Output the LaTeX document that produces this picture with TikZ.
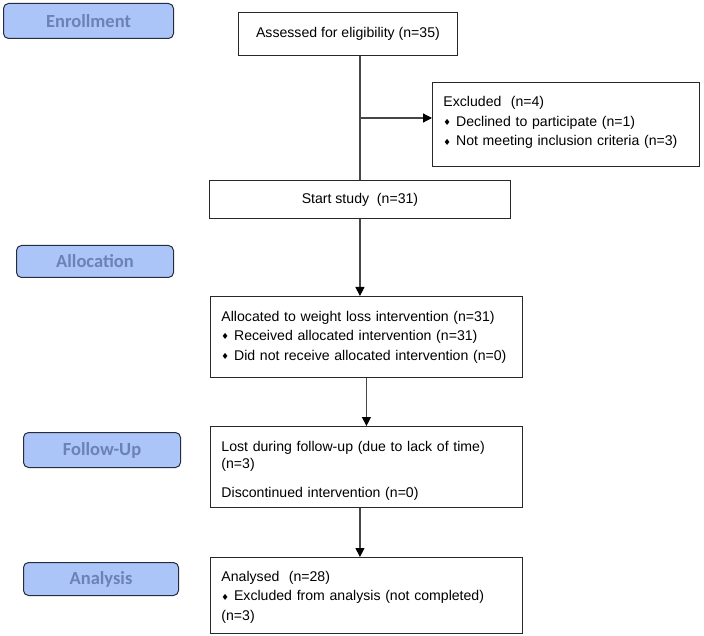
\documentclass[tikz,border=0pt]{standalone}
\usepackage{fontspec}
\setmainfont{Liberation Sans}
\newfontfamily\stagefont{Carlito}
\newfontfamily\symbfont{DejaVu Sans}
\usetikzlibrary{arrows.meta}
\definecolor{stagefill}{RGB}{172,197,248}
\definecolor{stagetext}{RGB}{106,130,184}
\definecolor{stageline}{RGB}{38,44,60}
\definecolor{boxline}{RGB}{40,40,40}
\definecolor{connline}{RGB}{70,70,70}
\newcommand{\dmd}{{\symbfont\fontsize{8.5}{8.5}\selectfont\raisebox{0.8pt}{♦}}\hspace{5pt}}
\begin{document}
\begin{tikzpicture}[x=1pt,y=-1pt,
  stage/.style={draw=stageline, line width=1pt, fill=stagefill, rounded corners=5pt, anchor=north west,
    font=\stagefont\bfseries\fontsize{18.5}{20}\selectfont, text=stagetext, inner sep=0pt},
  box/.style={draw=boxline, line width=0.9pt, anchor=north west, inner sep=0pt, font=\fontsize{14.1}{19.5}\selectfont},
  lbox/.style={box, align=left, text width=#1, inner xsep=11pt},
  conn/.style={draw=connline, line width=1.2pt},
  arr/.style={conn, -{Triangle[length=9pt,width=9pt,color=black]}}]
\useasboundingbox (0,0) rectangle (704,636);
% stage labels
\node[stage, minimum width=170pt, minimum height=35pt] (enr) at (3,3) {Enrollment};
\node[stage, minimum width=157pt, minimum height=32pt] (alc) at (16,245) {Allocation};
\node[stage, minimum width=157pt, minimum height=35pt] (fol) at (23,432) {Follow-Up};
\node[stage, minimum width=155pt, minimum height=33pt] (anl) at (23,562) {Analysis};
% boxes
\node[box, minimum width=219pt, minimum height=43pt, align=center] (ass) at (238,12) {Assessed for eligibility (n=35)};
\node[lbox=245pt, minimum width=267pt, minimum height=84pt] (exc) at (432,82)
  {Excluded~ (n=4)\\ \dmd Declined to participate (n=1)\\ \dmd Not meeting inclusion criteria (n=3)\\[-13pt]\mbox{}};
\node[box, minimum width=301pt, minimum height=38pt, align=center] (start) at (209,180) {Start study~ (n=31)};
\node[lbox=290pt, minimum width=312pt, minimum height=81pt] (alloc) at (210,296)
  {Allocated to weight loss intervention (n=31)\\ \dmd Received allocated intervention (n=31)\\ \dmd Did not receive allocated intervention (n=0)};
\node[lbox=290pt, minimum width=312pt, minimum height=81pt] (lost) at (210,426)
  {\rule{0pt}{18pt}Lost during follow-up (due to lack of time)\\[-2.5pt] (n=3)\\[10pt] Discontinued intervention (n=0)};
\node[lbox=290pt, minimum width=312pt, minimum height=76pt] (ana) at (210,557)
  {\rule{0pt}{14pt}Analysed~ (n=28)\\ \dmd Excluded from analysis (not completed)\\ (n=3)};
% connectors
\draw[conn] (start.north |- ass.south) -- (start.north);
\coordinate (j) at (360,118);
\draw[arr] (j) -- (j -| exc.west);
\draw[arr] (start.south) -- (start.south |- alloc.north);
\draw[arr] (alloc.south) -- (lost.north);
\draw[arr] (start.south |- lost.south) -- (start.south |- ana.north);
\end{tikzpicture}
\end{document}
